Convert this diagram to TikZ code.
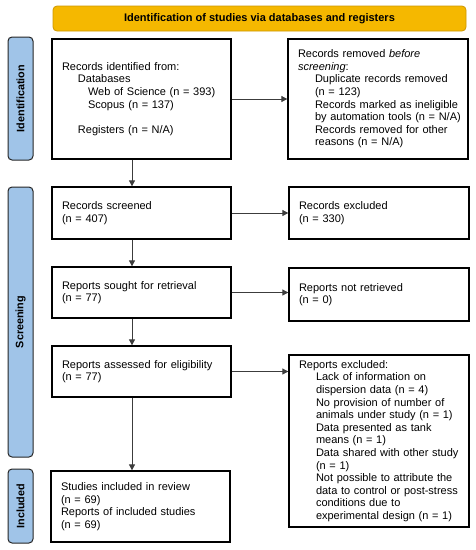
\documentclass[tikz,border=0pt]{standalone}
\usepackage{fontspec}
\setmainfont{Liberation Sans}
\usetikzlibrary{arrows.meta}
\definecolor{hdrfill}{RGB}{245,184,0}
\definecolor{hdrline}{RGB}{205,150,0}
\definecolor{sidefill}{RGB}{160,196,232}
\definecolor{arrcol}{RGB}{60,60,60}
\newcommand\rowi[1]{\mbox{\hspace*{17pt}#1}}
\newcommand\rowd[1]{\mbox{\hspace*{16pt}#1}}
\newcommand\rowdd[1]{\mbox{\hspace*{26pt}#1}}
\begin{document}
\begin{tikzpicture}[x=1pt,y=-1pt,
  box/.style={draw=black, line width=1.3pt, fill=white, align=left,
    inner xsep=10pt, inner ysep=0pt,
    font=\fontsize{11}{12.6}\selectfont},
  leftbox/.style={box, text width=159pt, minimum width=179pt},
  rightbox/.style={box, text width=160pt, minimum width=180pt},
  arr/.style={draw=arrcol, line width=0.8pt, -{Triangle[length=6pt,width=6pt]}},
  sidebar/.style={draw=black!85, line width=1pt, fill=sidefill, rounded corners=4pt,
    rotate=90, minimum height=25pt, inner sep=0pt,
    font=\fontsize{10.8}{12}\selectfont\bfseries},
  header/.style={draw=hdrline, line width=0.8pt, fill=hdrfill, rounded corners=4pt,
    minimum width=413pt, minimum height=25pt, inner sep=0pt,
    font=\fontsize{11}{12}\selectfont\bfseries}
]
\useasboundingbox (0,0) rectangle (475,550);

\node[header] (hdr) at (259.5,18.5) {Identification of studies via databases and registers};

\node[sidebar, minimum width=123pt] (sb1) at (20.5,98.5) {Identification};
\node[sidebar, minimum width=270pt] (sb2) at (20.5,322) {Screening};
\node[sidebar, minimum width=74pt] (sb3) at (20.5,506) {Included};

\node[leftbox, minimum height=120pt] (ident) at (141.5,99) {%
Records identified from:\\
\rowd{Databases}\\
\rowdd{Web of Science (n = 393)}\\
\rowdd{Scopus (n = 137)}\\[12.6pt]
\rowd{Registers (n = N/A)}};

\node[rightbox, minimum height=120pt] (removed) at (378,99) {%
Records removed \emph{before}\\
\emph{screening}:\\
\rowi{Duplicate records removed}\\
\rowi{(n = 123)}\\
\rowi{Records marked as ineligible}\\
\rowi{by automation tools (n = N/A)}\\
\rowi{Records removed for other}\\
\rowi{reasons (n = N/A)}};

\node[leftbox, minimum height=52pt] (screened) at (141.5,213) {%
Records screened\\(n = 407)};
\node[rightbox, minimum height=52pt] (excluded) at (379,213) {%
Records excluded\\(n = 330)};

\node[leftbox, minimum height=51pt] (sought) at (141.5,292.5) {%
Reports sought for retrieval\\(n = 77)};
\node[rightbox, minimum height=53pt] (notret) at (379,294.5) {%
Reports not retrieved\\(n = 0)};

\node[leftbox, minimum height=51pt] (assessed) at (141.5,371.5) {%
Reports assessed for eligibility\\(n = 77)};
\node[rightbox, minimum height=172pt] (repexcl) at (379,441) {%
Reports excluded:\\
\rowi{Lack of information on}\\
\rowi{dispersion data (n = 4)}\\
\rowi{No provision of number of}\\
\rowi{animals under study (n = 1)}\\
\rowi{Data presented as tank}\\
\rowi{means (n = 1)}\\
\rowi{Data shared with other study}\\
\rowi{(n = 1)}\\
\rowi{Not possible to attribute the}\\
\rowi{data to control or post-stress}\\
\rowi{conditions due to}\\
\rowi{experimental design (n = 1)}};

\node[leftbox, minimum height=71pt] (included) at (140.5,506.5) {%
Studies included in review\\
(n = 69)\\
Reports of included studies\\
(n = 69)};

\coordinate (ax) at (132,0);

\draw[arr] (ident.east) -- (ident.east -| removed.west);
\draw[arr] (screened.east) -- (screened.east -| excluded.west);
\draw[arr] (sought.east) -- (sought.east -| notret.west);
\draw[arr] (assessed.east) -- (assessed.east -| repexcl.west);

\draw[arr] (ident.south -| ax) -- (screened.north -| ax);
\draw[arr] (screened.south -| ax) -- (sought.north -| ax);
\draw[arr] (sought.south -| ax) -- (assessed.north -| ax);
\draw[arr] (assessed.south -| ax) -- (included.north -| ax);
\end{tikzpicture}
\end{document}
